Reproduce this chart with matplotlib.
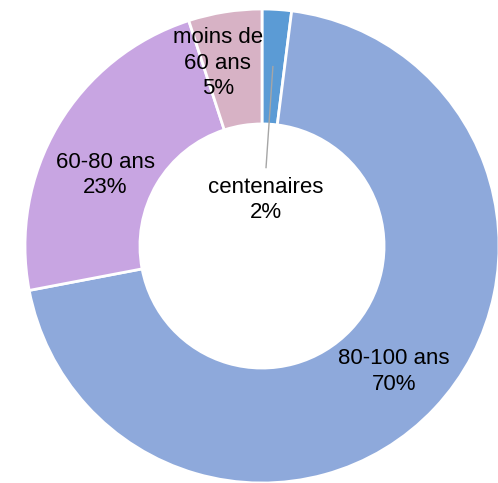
import matplotlib
matplotlib.use("Agg")
import matplotlib.pyplot as plt
import numpy as np

# Data
categories = ["centenaires", "80-100 ans", "60-80 ans", "moins de\n60 ans"]
values = [2, 70, 23, 5]
label_texts = ["centenaires\n2%", "80-100 ans\n70%", "60-80 ans\n23%", "moins de\n60 ans\n5%"]

# Styles / layout
colors = ["#5B9BD5", "#8EA9DB", "#C8A5E2", "#D7B2C5"]
label_pos = [(0.017, 0.194), (0.557, -0.53), (-0.662, 0.30), (-0.186, 0.772)]

plt.rcParams['font.family'] = ['Liberation Sans', 'DejaVu Sans']

fig = plt.figure(figsize=(4.98, 4.83), dpi=100)
ax = fig.add_axes([0, 0, 1, 1])
ax.axis('off')

wedges, _ = ax.pie(values, colors=colors, startangle=90, counterclock=False,
                   radius=1.0,
                   wedgeprops=dict(width=0.485, edgecolor='white', linewidth=2))
ax.set_xlim(-262 / 237, (498 - 262) / 237)
ax.set_ylim(-(483 - 246) / 237, 246 / 237)
ax.set_aspect('auto')

# leader line for centenaires
ax.plot([0.017, 0.046], [0.331, 0.757], color="#A6A6A6", linewidth=1, zorder=3)

for txt, (x, y) in zip(label_texts, label_pos):
    ax.text(x, y, txt, ha='center', va='center', fontsize=16, color='black',
            linespacing=1.27, zorder=4)

fig.savefig("out.png", dpi=100)
